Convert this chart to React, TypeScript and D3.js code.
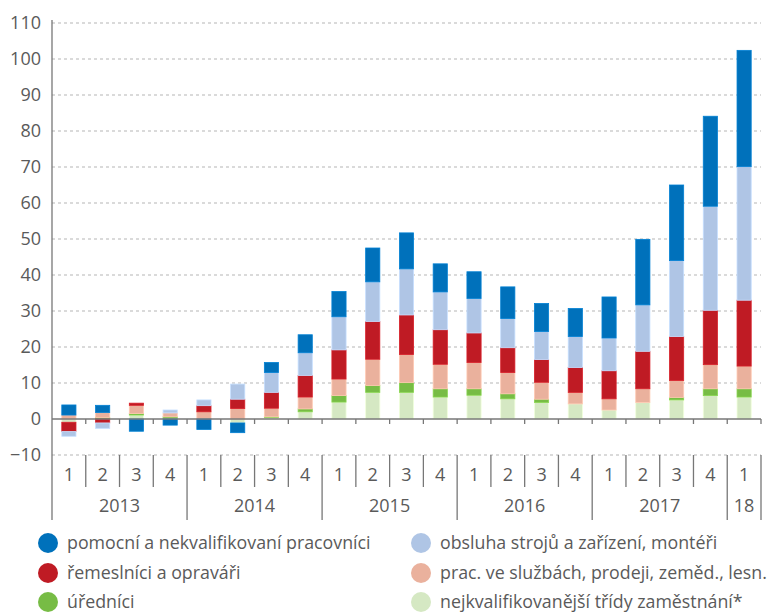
import React from 'react';
import * as d3 from 'd3';

// quarters 2013Q1 .. 2018Q1
const quarterLabels = ['1', '2', '3', '4', '1', '2', '3', '4', '1', '2', '3', '4', '1', '2', '3', '4', '1', '2', '3', '4', '1'];
const yearLabels = ['2013', '2014', '2015', '2016', '2017', '18'];
const quartersPerYear = [4, 4, 4, 4, 4, 1];

// series, bottom to top of the stack
const nejkvalifikovanejsi = [-0.9, 0, 1.1, 0.2, 0, -1.1, 0.4, 2.0, 4.7, 7.4, 7.4, 6.1, 6.6, 5.6, 4.6, 4.2, 2.5, 4.6, 5.3, 6.5, 6.1];
const urednici = [0, 0.4, 0.4, 0.4, 0, 0, 0.2, 0.8, 1.8, 1.9, 2.7, 2.3, 1.8, 1.4, 0.9, 0, 0, 0, 0.7, 1.9, 2.3];
const sluzby = [1.1, 1.4, 2.3, 1.1, 2.0, 2.9, 2.4, 3.3, 4.6, 7.3, 7.8, 6.8, 7.3, 5.9, 4.7, 3.2, 3.1, 3.8, 4.7, 6.7, 6.3];
const remeslnici = [-2.6, -1.1, 0.6, 0, 1.7, 2.6, 4.4, 6.0, 8.1, 10.5, 11.0, 9.6, 8.2, 6.9, 6.3, 6.9, 7.8, 10.4, 12.2, 15.1, 18.3];
const obsluha = [-1.3, -1.5, 0, 0.8, 1.6, 4.2, 5.5, 6.3, 9.2, 11.0, 12.8, 10.5, 9.6, 8.1, 7.8, 8.6, 9.1, 12.9, 21.1, 28.9, 37.1];
const pomocni = [2.8, 2.0, -3.4, -1.7, -2.9, -2.7, 2.8, 5.0, 7.0, 9.4, 10.0, 7.8, 7.4, 8.8, 7.8, 7.8, 11.4, 18.2, 21.0, 25.0, 32.3];

const yTicks = [-10, 0, 10, 20, 30, 40, 50, 60, 70, 80, 90, 100, 110];

const seriesKeys = ['nejkval', 'urednici', 'sluzby', 'remesl', 'obsluha', 'pomocni'];
const seriesColors = ['#d5e8c3', '#77bc45', '#eab19d', '#bf1b24', '#afc5e5', '#0071bb'];
const seriesNames = [
  'nejkvalifikovanější třídy zaměstnání*',
  'úředníci',
  'prac. ve službách, prodeji, zeměd., lesn.',
  'řemeslníci a opraváři',
  'obsluha strojů a zařízení, montéři',
  'pomocní a nekvalifikovaní pracovníci',
];

const W = 768;
const H = 614;
const FONT = '"Open Sans", "Noto Sans", sans-serif';
const GREY = '#5a5a5a';

export default function App() {
  const rows = quarterLabels.map((q, i) => ({
    i,
    nejkval: nejkvalifikovanejsi[i],
    urednici: urednici[i],
    sluzby: sluzby[i],
    remesl: remeslnici[i],
    obsluha: obsluha[i],
    pomocni: pomocni[i],
  }));

  const stacked = d3.stack<any>().keys(seriesKeys).offset(d3.stackOffsetDiverging)(rows);

  const x = d3.scaleBand<number>()
    .domain(d3.range(quarterLabels.length))
    .range([52, 761])
    .paddingInner(0.58)
    .paddingOuter(0.29);
  const step = x.step();
  const boundary = (i: number) => 52 + i * step;

  const y = d3.scaleLinear().domain([-10, 110]).range([455, 23]);

  // year group boundaries (in category index)
  const yearStarts = quartersPerYear.reduce((acc: number[], n, k) => {
    acc.push((acc[k] ?? 0) + n);
    return acc;
  }, [0]);

  const legendLeft = [5, 3, 1];
  const legendRight = [4, 2, 0];
  const legendRowY = [543, 573, 602];

  return (
    <svg width={W} height={H} style={{ position: 'absolute', left: 0, top: 0, background: '#fff' }} fontFamily={FONT}>
      {/* grid */}
      {yTicks.filter(t => t !== 0).map(t => (
        <line key={t} x1={52} x2={761} y1={y(t)} y2={y(t)} stroke="#b5b5b5" strokeWidth={1.2} strokeDasharray="3,3" />
      ))}
      {/* y labels */}
      {yTicks.map(t => (
        <text key={t} x={41} y={y(t)} dy="0.35em" textAnchor="end" fontSize={18} fill={GREY}>
          {t < 0 ? '\u2212' + Math.abs(t) : t}
        </text>
      ))}

      {/* bars */}
      {stacked.map((s, k) => (
        <g key={s.key} fill={seriesColors[k]} stroke={d3.color(seriesColors[k])!.brighter(0.35).toString()} strokeWidth={0.8}>
          {s.map((d, i) => {
            const y0 = y(d[0]);
            const y1 = y(d[1]);
            const h = Math.abs(y0 - y1);
            if (h < 0.01) return null;
            return <rect key={i} x={x(i)} y={Math.min(y0, y1)} width={x.bandwidth()} height={h} />;
          })}
        </g>
      ))}

      {/* zero line + ticks */}
      <line x1={52} x2={761} y1={y(0)} y2={y(0)} stroke="#777" strokeWidth={1.5} />
      {d3.range(1, quarterLabels.length + 1).map(i => (
        <line key={i} x1={boundary(i)} x2={boundary(i)} y1={y(0)} y2={y(0) + 5} stroke="#777" strokeWidth={1.3} />
      ))}

      {/* y axis */}
      <line x1={52} x2={52} y1={20} y2={520} stroke="#777" strokeWidth={1.3} />

      {/* category separators */}
      {d3.range(1, quarterLabels.length + 1).map(i => {
        const isYear = yearStarts.includes(i);
        return (
          <line key={i} x1={boundary(i)} x2={boundary(i)} y1={y(-10)} y2={isYear ? 520 : 487} stroke="#777" strokeWidth={1.3} />
        );
      })}
      {quarterLabels.map((q, i) => (
        <text key={i} x={(x(i) ?? 0) + x.bandwidth() / 2} y={475} dy="0.35em" textAnchor="middle" fontSize={18} fill={GREY}>
          {q}
        </text>
      ))}
      {yearLabels.map((yl, k) => (
        <text key={yl} x={(boundary(yearStarts[k]) + boundary(yearStarts[k + 1])) / 2} y={506} dy="0.35em" textAnchor="middle" fontSize={18} fill={GREY}>
          {yl}
        </text>
      ))}

      {/* legend */}
      {legendLeft.map((s, r) => (
        <g key={'l' + s}>
          <circle cx={48} cy={legendRowY[r]} r={10} fill={seriesColors[s]} />
          <text x={67} y={legendRowY[r]} dy="0.35em" fontSize={17.8} fill={GREY}>{seriesNames[s]}</text>
        </g>
      ))}
      {legendRight.map((s, r) => (
        <g key={'r' + s}>
          <circle cx={421} cy={legendRowY[r]} r={10} fill={seriesColors[s]} />
          <text x={440} y={legendRowY[r]} dy="0.35em" fontSize={17.8} fill={GREY}>{seriesNames[s]}</text>
        </g>
      ))}
    </svg>
  );
}
